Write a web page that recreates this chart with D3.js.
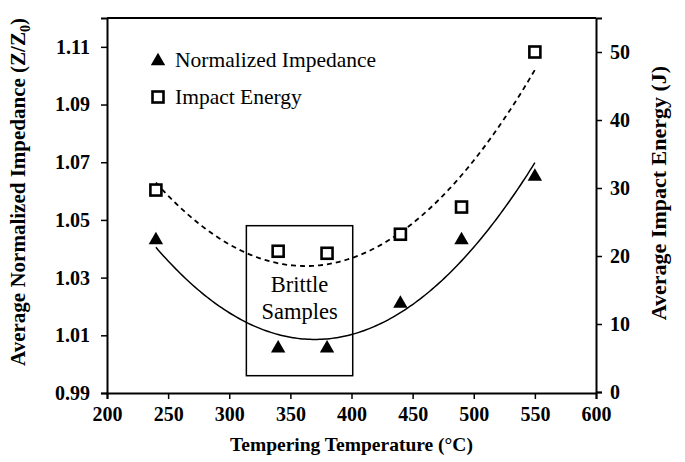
<!DOCTYPE html>
<html>
<head>
<meta charset="utf-8" />
<style>
  body { margin: 0; background: #fff; }
  svg text { font-family: "Liberation Serif", Tinos, "Times New Roman", Times, "DejaVu Serif", serif; }
</style>
</head>
<body>
<script src="https://d3js.org/d3.v7.min.js"></script>
<script>
  // data
  var temps = [240, 340, 380, 440, 490, 550];
  var impedance = [1.043, 1.0055, 1.0055, 1.021, 1.043, 1.065];
  var impact = [29.7, 20.7, 20.4, 23.2, 27.2, 50.0];
  var leftTicks = [0.99, 1.01, 1.03, 1.05, 1.07, 1.09, 1.11];
  var rightTicks = [0, 10, 20, 30, 40, 50];
  var xTicks = [200, 250, 300, 350, 400, 450, 500, 550, 600];
  var brittleBox = {x0: 314, x1: 401, y0: 0.996, y1: 1.048};

  var width = 685, height = 462;
  var margin = {left: 107, right: 89, top: 18, bottom: 70};
  var serif = '"Liberation Serif", Tinos, "Times New Roman", Times, "DejaVu Serif", serif';

  var svg = d3.select("body").append("svg")
      .attr("width", width)
      .attr("height", height)
      .attr("font-family", serif);

  var x = d3.scaleLinear().domain([200, 600]).range([margin.left, width - margin.right]);
  var yL = d3.scaleLinear().domain([0.99, 1.12]).range([height - margin.bottom + 1, margin.top]);
  var yR = d3.scaleLinear().domain([0, 55]).range([height - margin.bottom, margin.top]);

  // quadratic least squares trendline (like the spreadsheet did)
  function quadFit(xs, ys) {
    var n = xs.length, s = [0, 0, 0, 0, 0], t = [0, 0, 0];
    for (var i = 0; i < n; i++) {
      var p = 1;
      for (var k = 0; k < 5; k++) { s[k] += p; if (k < 3) t[k] += p * ys[i]; p *= xs[i]; }
    }
    var A = [[s[0], s[1], s[2], t[0]], [s[1], s[2], s[3], t[1]], [s[2], s[3], s[4], t[2]]];
    for (var c = 0; c < 3; c++) {
      for (var r = c + 1; r < 3; r++) {
        var f = A[r][c] / A[c][c];
        for (var j = c; j < 4; j++) A[r][j] -= f * A[c][j];
      }
    }
    var b = [0, 0, 0];
    for (var r2 = 2; r2 >= 0; r2--) {
      var sum = A[r2][3];
      for (var j2 = r2 + 1; j2 < 3; j2++) sum -= A[r2][j2] * b[j2];
      b[r2] = sum / A[r2][r2];
    }
    return function(v) { return b[0] + b[1] * v + b[2] * v * v; };
  }

  var fitZ = quadFit(temps, impedance);
  var fitE = quadFit(temps, impact);
  var xs = d3.range(240, 550.5, 2);

  // frame top
  svg.append("line")
     .attr("x1", x(200)).attr("x2", x(600))
     .attr("y1", margin.top).attr("y2", margin.top)
     .style("stroke", "#000").style("stroke-width", 2);

  var xAxis = svg.append("g")
     .attr("transform", "translate(0," + yL(0.99) + ")")
     .call(d3.axisBottom(x).tickValues(xTicks).tickSize(6).tickPadding(8));

  var leftAxis = svg.append("g")
     .attr("transform", "translate(" + x(200) + ",0)")
     .call(d3.axisLeft(yL).tickValues(leftTicks).tickFormat(d3.format(".2f")).tickSize(6).tickPadding(11));

  var rightAxis = svg.append("g")
     .attr("transform", "translate(" + x(600) + ",0)")
     .call(d3.axisRight(yR).tickValues(rightTicks).tickSize(6).tickPadding(8));

  [xAxis, leftAxis, rightAxis].forEach(function(a) {
    a.attr("font-family", serif);
    a.select(".domain").style("stroke-width", 2);
    a.selectAll(".tick line").style("stroke-width", 1.5);
    a.selectAll("text")
     .style("font-family", serif)
     .style("font-weight", "bold")
     .style("font-size", "20px")
     .attr("fill", "#000");
  });

  // brittle box
  svg.append("rect")
     .attr("x", x(brittleBox.x0)).attr("y", yL(brittleBox.y1))
     .attr("width", x(brittleBox.x1) - x(brittleBox.x0))
     .attr("height", yL(brittleBox.y0) - yL(brittleBox.y1))
     .attr("fill", "none").style("stroke", "#000").style("stroke-width", 1.5);

  var boxMid = x((brittleBox.x0 + brittleBox.x1) / 2);
  svg.append("text").attr("x", boxMid).attr("y", 292)
     .style("text-anchor", "middle").style("font-size", "22.5px").text("Brittle");
  svg.append("text").attr("x", boxMid).attr("y", 319)
     .style("text-anchor", "middle").style("font-size", "22.5px").text("Samples");

  // trend lines
  svg.append("path")
     .datum(xs)
     .attr("d", d3.line().x(d => x(d)).y(d => yL(fitZ(d))))
     .attr("fill", "none").style("stroke", "#000").style("stroke-width", 1.5);

  svg.append("path")
     .datum(xs)
     .attr("d", d3.line().x(d => x(d)).y(d => yR(fitE(d))))
     .attr("fill", "none").style("stroke", "#000").style("stroke-width", 1.8)
     .style("stroke-dasharray", "5,4");

  // markers
  var tri = d3.symbol().type(d3.symbolTriangle).size(90);
  svg.selectAll(".tri")
     .data(temps)
     .enter().append("path")
     .attr("class", "tri")
     .attr("transform", (d, i) => "translate(" + x(d) + "," + yL(impedance[i]) + ")")
     .attr("d", tri)
     .attr("fill", "#000");

  svg.selectAll(".sq")
     .data(temps)
     .enter().append("rect")
     .attr("class", "sq")
     .attr("x", d => x(d) - 5.5)
     .attr("y", (d, i) => yR(impact[i]) - 5.5)
     .attr("width", 11).attr("height", 11)
     .attr("fill", "#fff").style("stroke", "#000").style("stroke-width", 2.6);

  // legend
  svg.append("path")
     .attr("transform", "translate(158,61)")
     .attr("d", tri).attr("fill", "#000");
  svg.append("text").attr("x", 175).attr("y", 67)
     .style("font-size", "21.5px").text("Normalized Impedance");
  svg.append("rect")
     .attr("x", 152.5).attr("y", 91.5).attr("width", 11).attr("height", 11)
     .attr("fill", "#fff").style("stroke", "#000").style("stroke-width", 2.6);
  svg.append("text").attr("x", 175).attr("y", 104)
     .style("font-size", "21.5px").text("Impact Energy");

  // axis titles
  svg.append("text")
     .attr("x", x(400)).attr("y", 451)
     .style("text-anchor", "middle").style("font-weight", "bold").style("font-size", "19.5px")
     .text("Tempering Temperature (°C)");

  var lt = svg.append("text")
     .attr("transform", "translate(25,192) rotate(-90)")
     .style("text-anchor", "middle").style("font-weight", "bold").style("font-size", "21px");
  lt.append("tspan").text("Average Normalized Impedance (Z/Z");
  lt.append("tspan").attr("dy", 5).style("font-size", "14px").text("0");
  lt.append("tspan").attr("dy", -5).text(")");

  svg.append("text")
     .attr("transform", "translate(666,193) rotate(-90)")
     .style("text-anchor", "middle").style("font-weight", "bold").style("font-size", "22px")
     .text("Average Impact Energy (J)");
</script>
</body>
</html>
